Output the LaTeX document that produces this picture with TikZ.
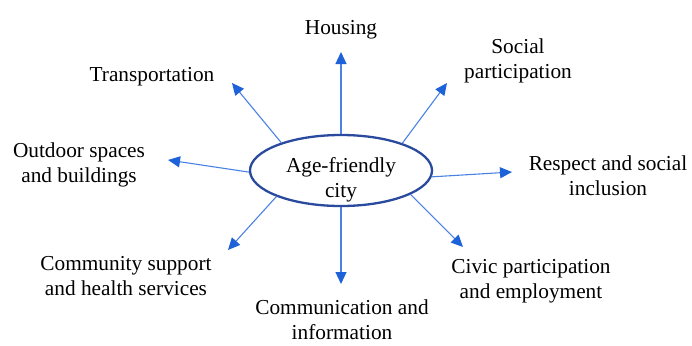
\documentclass[tikz,border=0pt]{standalone}
\usepackage{fontspec}
\setmainfont{Liberation Serif}
\usetikzlibrary{arrows.meta,shapes.geometric}
\definecolor{elcol}{HTML}{2A4A9E}
\definecolor{arcol}{HTML}{4A82E4}
\definecolor{tipcol}{HTML}{1E62DA}
\tikzset{
  lbl/.style={anchor=base, align=center, inner sep=0pt, font=\fontsize{21.3}{25}\selectfont},
  conn/.style={draw=arcol, line width=1.1pt, -{Triangle[length=12pt,width=11pt,fill=tipcol,color=tipcol]}},
  hub/.style={ellipse, draw=elcol, line width=2.3pt, minimum width=182pt, minimum height=71pt, inner sep=0pt}
}
\begin{document}
\begin{tikzpicture}[x=1pt,y=-1pt]
\useasboundingbox (0,0) rectangle (692,345);
\node[hub] (e) at (341,170.5) {};
\node[lbl] (etext) at (341,197) {Age-friendly\\city};

\node[lbl] (housing) at (341,35) {Housing};
\node[lbl] (transport) at (152,81) {Transportation};
\node[lbl] (social) at (518,78) {Social\\participation};
\node[lbl] (outdoor) at (79,182) {Outdoor spaces\\and buildings};
\node[lbl] (respect) at (608,195) {Respect and social\\inclusion};
\node[lbl] (community) at (126,295) {Community support\\and health services};
\node[lbl] (civic) at (531,298) {Civic participation\\and employment};
\node[lbl] (comm) at (342,339) {Communication and\\information};

\coordinate (tHousing) at (341,52);
\coordinate (tTransport) at (232,83);
\coordinate (tSocial) at (447,83);
\coordinate (tOutdoor) at (168,160);
\coordinate (tRespect) at (512,172);
\coordinate (tCommunity) at (228,250);
\coordinate (tCivic) at (463,247);
\coordinate (tComm) at (341,284);

\draw[conn] (e.north) -- (tHousing);
\draw[conn] (e.155) -- (tTransport);
\draw[conn] (e.24) -- (tSocial);
\draw[conn] (e.181) -- (tOutdoor);
\draw[conn] (e.356) -- (tRespect);
\draw[conn] (e.202) -- (tCommunity);
\draw[conn] (e.341) -- (tCivic);
\draw[conn] (e.south) -- (tComm);
\end{tikzpicture}
\end{document}
